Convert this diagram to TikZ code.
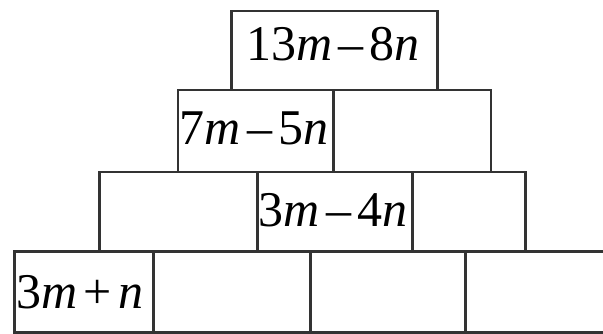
\documentclass[tikz,border=0pt]{standalone}
\usepackage{fontspec}
\setmainfont{Liberation Serif}
\definecolor{edge}{HTML}{333333}
\tikzset{
  cell/.style={draw=edge, line width=2.8pt, rectangle, inner sep=0pt, anchor=north west},
  expr/.style={anchor=base, inner sep=0pt, font=\fontsize{50}{60}\selectfont, text=black}
}
\newcommand{\mi}[1]{\textit{#1}}
\newcommand{\msp}{\hspace{0.12em}}
\begin{document}
\begin{tikzpicture}[x=1pt,y=-1pt]
\useasboundingbox (0,0) rectangle (603,333);
% row 1
\node[cell, minimum width=206pt, minimum height=79pt] (a1) at (230,9.5) {};
% row 2
\node[cell, minimum width=155.5pt, minimum height=82pt] (b1) at (176.5,88.5) {};
\node[cell, minimum width=157.5pt, minimum height=82pt] (b2) at (332,88.5) {};
% row 3
\node[cell, minimum width=158pt, minimum height=79.5pt] (c1) at (97.7,170.5) {};
\node[cell, minimum width=155.3pt, minimum height=79.5pt] (c2) at (255.7,170.5) {};
\node[cell, minimum width=113pt, minimum height=79.5pt] (c3) at (411,170.5) {};
% row 4
\node[cell, minimum width=139pt, minimum height=81pt] (d1) at (12.7,250) {};
\node[cell, minimum width=157.6pt, minimum height=81pt] (d2) at (151.7,250) {};
\node[cell, minimum width=155pt, minimum height=81pt] (d3) at (309.3,250) {};
\node[cell, minimum width=160pt, minimum height=81pt] (d4) at (464.3,250) {};
% texts
\node[expr] (ta) at (333,60) {13\mi{m}\msp–\msp8\mi{n}};
\node[expr] (tb) at (254,144) {7\mi{m}\msp–\msp5\mi{n}};
\node[expr] (tc) at (333,226) {3\mi{m}\msp–\msp4\mi{n}};
\node[expr] (td) at (80,308) {3\mi{m}\msp+\msp\mi{n}};
\end{tikzpicture}
\end{document}
